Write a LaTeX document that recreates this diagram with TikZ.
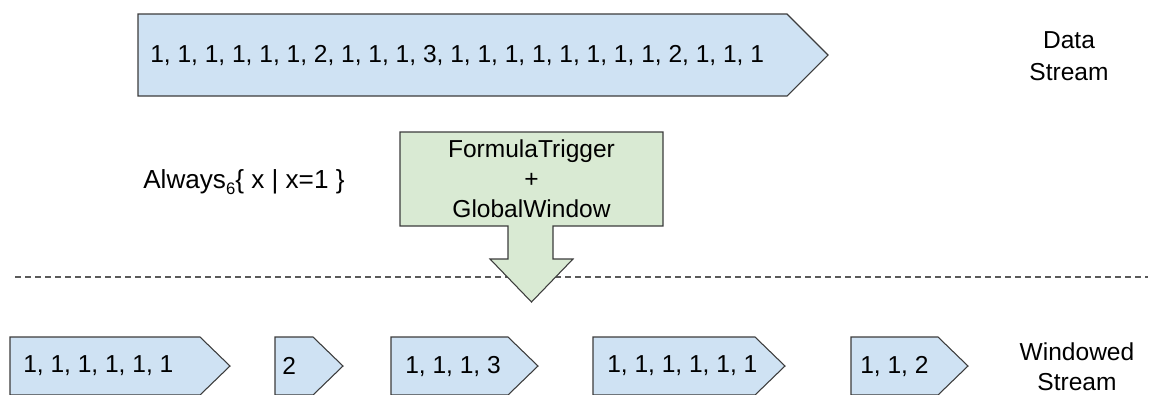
\documentclass[tikz,border=0pt]{standalone}
\usepackage{fontspec}
\setmainfont{Liberation Sans}
\definecolor{streamblue}{HTML}{CFE2F3}
\definecolor{triggergreen}{HTML}{D9EAD3}
\definecolor{edgegray}{HTML}{3C3C3C}
\definecolor{rulegray}{HTML}{5A5A5A}

\begin{document}
\begin{tikzpicture}[x=0.75pt,y=-0.75pt,line join=miter,
		chevron/.style={draw=edgegray,fill=streamblue,line width=0.8pt},
		lbl/.style={inner sep=0pt,font=\fontsize{18.4}{22.5}\selectfont}]
	\useasboundingbox (0,0) rectangle (1158,394);
	
	% incoming stream
	\draw[chevron] (138,14) -- (787,14) -- (828,55) -- (787,96) -- (138,96) -- cycle;
	\node[lbl,anchor=west] (data) at (150,55)
	{1, 1, 1, 1, 1, 1, 2, 1, 1, 1, 3, 1, 1, 1, 1, 1, 1, 1, 1, 2, 1, 1, 1};
	\node[lbl,align=center] (datalbl) at (1069,56.5) {Data\\[1.5pt]Stream};
	
	\draw[rulegray,line width=0.9pt,dash pattern=on 4.5pt off 3pt] (15,277) -- (1148,277);
	
	% trigger, box with its arrow
	\draw[draw=edgegray,fill=triggergreen,line width=0.8pt]
	(400,132) -- (663,132) -- (663,226) -- (553,226) -- (553,259) -- (573,259)
	-- (531.5,302) -- (490,259) -- (508,259) -- (508,226) -- (400,226) -- cycle;
	\node[lbl,align=center] (trigger) at (531.5,179) {FormulaTrigger\\+\\GlobalWindow};
	\node[lbl,anchor=base west,font=\fontsize{19.6}{23}\selectfont] (formula) at (143,188)
	{Always\raisebox{-0.45ex}{\fontsize{12.5}{14}\selectfont 6}\{ x | x=1 \}};
	
	% windows
	\foreach \l/\r/\t/\i/\s in {10/200/23/1/{1, 1, 1, 1, 1, 1},275/313/282/2/{2},
		391/508/405/3/{1, 1, 1, 3},593/755/607/4/{1, 1, 1, 1, 1, 1},851/938/860/5/{1, 1, 2}}{
		\draw[chevron] (\l,337) -- (\r,337) -- ({\r+30},366) -- (\r,395) -- (\l,395) -- cycle;
		\node[lbl,anchor=west] (win\i) at (\t,366) {\s};
	}
	\node[lbl,align=center] (winlbl) at (1077,367) {Windowed\\Stream};
\end{tikzpicture}
\end{document}
